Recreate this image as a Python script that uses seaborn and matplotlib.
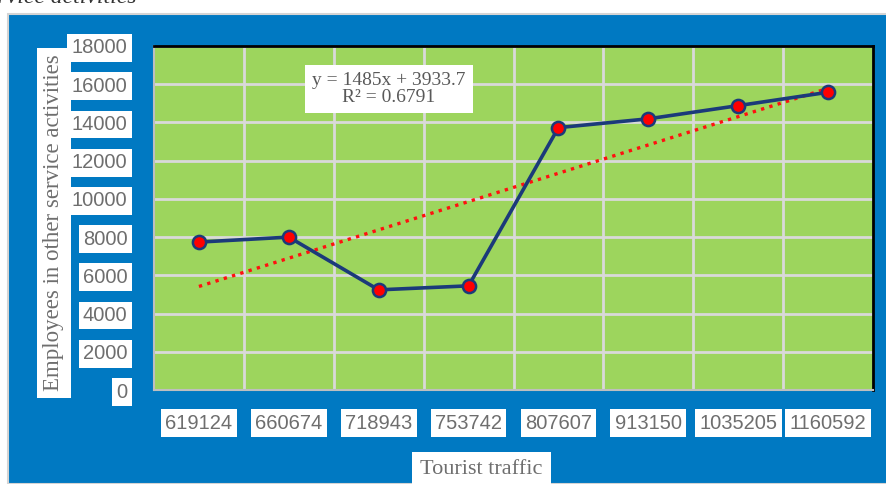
import matplotlib
matplotlib.use("Agg")
import matplotlib.pyplot as plt
from matplotlib.patches import Rectangle
import seaborn as sns
import pandas as pd
import numpy as np

# ---- data ----
tourist_traffic = ["619124", "660674", "718943", "753742", "807607", "913150", "1035205", "1160592"]
employees = [7740, 8000, 5240, 5450, 13730, 14190, 14880, 15580]
y_ticks = [0, 2000, 4000, 6000, 8000, 10000, 12000, 14000, 16000, 18000]
equation_text = "y = 1485x + 3933.7\nR\u00b2 = 0.6791"
x_title = "Tourist traffic"
y_title = "Employees in other service activities"

df = pd.DataFrame({"pos": np.arange(len(tourist_traffic)), "employees": employees})

sns.set_theme(style="white")
plt.rcParams['font.family'] = ['Liberation Sans', 'DejaVu Sans']

W, H = 887, 484
fig = plt.figure(figsize=(W / 100, H / 100), dpi=100, facecolor="white")

# blue panel
panel = Rectangle((8 / W, 0), 1 - 8 / W + 0.01, (H - 14) / H, transform=fig.transFigure,
                  facecolor="#0079C2", edgecolor="#d4d4d4", linewidth=1.5, zorder=-10)
fig.add_artist(panel)
# cut-off document caption at the top
fig.text(137 / W, 1 - 2.5 / H, "Employees in other service activities", ha="right", va="baseline",
         fontsize=17, style="italic", family="Liberation Serif", color="#333333", zorder=-5)

ax = fig.add_axes([154 / W, (H - 390) / H, (873 - 154) / W, (390 - 46) / H])
ax.set_zorder(1)
ax.set_facecolor("#9DD55D")

# trend line
sns.regplot(data=df, x="pos", y="employees", scatter=False, ci=None, ax=ax, truncate=True,
            line_kws=dict(color="#FF1010", linestyle=(0, (1, 1.6)), linewidth=2.4, zorder=3))
# main series
sns.lineplot(data=df, x="pos", y="employees", ax=ax, color="#1B3A7A", linewidth=2.6,
             marker="o", markersize=9.5, markerfacecolor="#FF0000", markeredgecolor="#1B3A7A",
             markeredgewidth=1.8, zorder=4)

ax.set_xlim(-0.5, len(tourist_traffic) - 0.5)
ax.set_ylim(0, 18000)
ax.set_yticks(y_ticks)
ax.set_yticklabels([str(v) for v in y_ticks])
ax.set_xticks(np.arange(len(tourist_traffic)))
ax.set_xticklabels(tourist_traffic)
ax.set_xticks(np.arange(len(tourist_traffic) - 1) + 0.5, minor=True)

ax.grid(False)
ax.yaxis.grid(True, which="major", color="#D9D9D9", linewidth=2)
ax.xaxis.grid(True, which="minor", color="#D9D9D9", linewidth=2)
ax.set_axisbelow(True)

ax.tick_params(axis="both", which="both", length=0)
ax.tick_params(axis="y", pad=19)
ax.tick_params(axis="x", pad=17)
lbl_box = dict(facecolor="white", edgecolor="none", boxstyle="square,pad=0.22")
for t in ax.get_yticklabels() + ax.get_xticklabels():
    t.set_fontsize(14.5)
    t.set_color("#6E6E6E")
    t.set_bbox(lbl_box)

for s in ["top", "right"]:
    ax.spines[s].set_color("black")
    ax.spines[s].set_linewidth(2)
for s in ["left", "bottom"]:
    ax.spines[s].set_color("#BFBFBF")
    ax.spines[s].set_linewidth(1.5)

ax.set_xlabel(x_title, fontsize=16, family="Liberation Serif", color="#6E6E6E",
              bbox=dict(facecolor="white", edgecolor="none", boxstyle="square,pad=0.38"))
ax.xaxis.set_label_coords((481.5 - 154) / 719, (390 - 470) / 344)
ax.xaxis.label.set_va("center")
ax.set_ylabel(y_title, fontsize=16.5, family="Liberation Serif", color="#6E6E6E",
              bbox=dict(facecolor="white", edgecolor="none", boxstyle="square,pad=0.3"))
ax.yaxis.set_label_coords((54 - 154) / 719, (390 - 223) / 344)
ax.yaxis.label.set_va("center")

ax.text((389 - 154) / 719, (390 - 89) / 344, equation_text, transform=ax.transAxes,
        ha="center", va="center", fontsize=14, family="Liberation Serif", color="#595959",
        linespacing=1.0, zorder=5,
        bbox=dict(facecolor="white", edgecolor="none", boxstyle="square,pad=0.38"))

fig.savefig("out.png", dpi=100, facecolor="white")
